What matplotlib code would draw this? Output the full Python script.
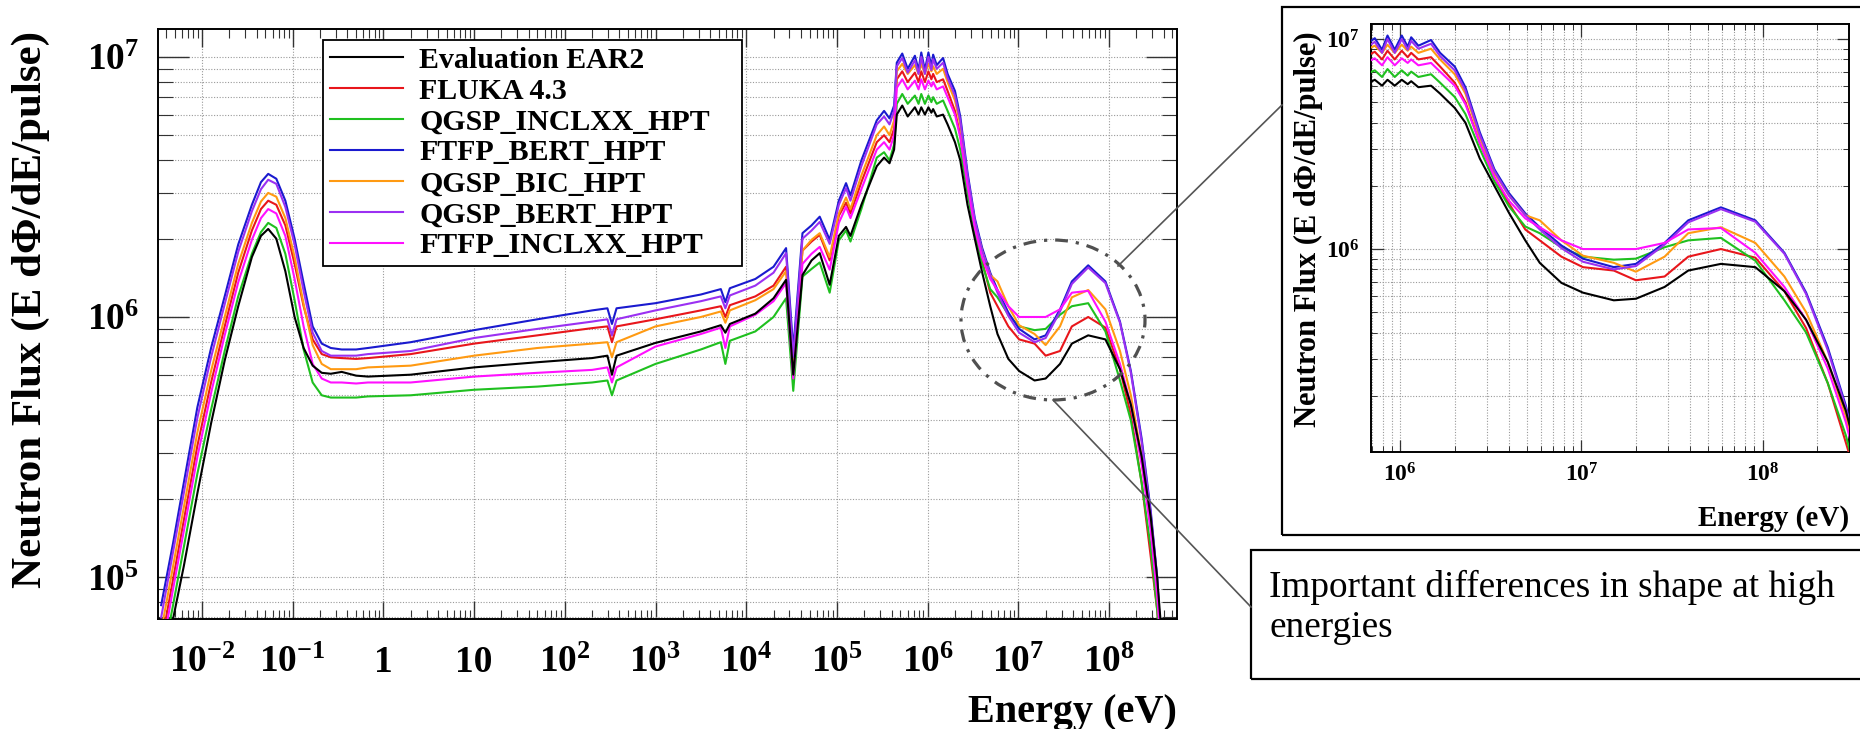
import numpy as np
import matplotlib
matplotlib.use('Agg')
import matplotlib.pyplot as plt
from matplotlib.patches import Ellipse, Rectangle
from matplotlib.lines import Line2D
from matplotlib.ticker import LogLocator, NullFormatter
from matplotlib.font_manager import FontProperties

plt.rcParams['font.family'] = ['Liberation Serif', 'DejaVu Serif']
plt.rcParams['mathtext.fontset'] = 'custom'
plt.rcParams['mathtext.rm'] = 'Liberation Serif:bold'
plt.rcParams['mathtext.bf'] = 'Liberation Serif:bold'
plt.rcParams['mathtext.it'] = 'Liberation Serif:bold:italic'
plt.rcParams['mathtext.default'] = 'bf'

# ---------------------------------------------------------------------------
# Data (energy in eV, flux in units of 1e5 per pulse)
# ---------------------------------------------------------------------------
ENERGY = [0.00355, 0.0048, 0.0063, 0.0089, 0.0126, 0.0178, 0.0251, 0.0355, 0.0447, 0.0537,
          0.066, 0.083, 0.105, 0.132, 0.166, 0.209, 0.263, 0.347, 0.50, 0.676,
          2.0, 10, 50, 200, 295, 331, 372, 1000, 3160, 5250,
          5890, 6600, 12600, 20000, 27500, 33000, 41700, 52500, 64600, 83200,
          1.05e5, 1.26e5, 1.41e5, 1.86e5, 2.75e5, 3.31e5, 3.80e5, 4.27e5, 4.57e5, 5.25e5,
          6.03e5, 7.24e5, 7.94e5, 8.51e5, 9.33e5, 1.02e6, 1.10e6, 1.15e6, 1.26e6, 1.48e6,
          1.66e6, 2.0e6, 2.29e6, 2.75e6, 3.31e6, 3.98e6, 4.9e6, 5.89e6, 7.76e6, 1.02e7,
          1.51e7, 2.0e7, 2.88e7, 3.89e7, 5.89e7, 9.12e7, 1.32e8, 1.74e8, 2.29e8, 2.88e8,
          3.39e8, 3.8e8]

FLUX_EAR2 = [0.42, 0.69, 1.1, 2.1, 3.9, 6.8, 11, 17, 20.5, 21.8,
             20, 15, 10, 7.6, 6.5, 6.1, 6.05, 6.15, 5.95, 5.9,
             6.0, 6.4, 6.7, 6.95, 7.1, 6.0, 7.1, 7.95, 8.8, 9.3,
             8.7, 9.4, 10.3, 11.8, 13.9, 6.0, 14.5, 16.5, 17.6, 13.3,
             20.5, 22.2, 20.5, 27, 38, 41, 39, 44, 60, 65,
             59, 64, 60, 64, 60, 64, 61, 63, 59, 60,
             55, 47, 40, 27, 20, 14.9, 11, 8.6, 6.9, 6.2,
             5.7, 5.8, 6.6, 7.9, 8.5, 8.2, 6.3, 4.6, 2.9, 1.7,
             1.0, 0.6]

FLUX_FLUKA = [0.55, 0.98, 1.65, 3.2, 5.6, 9.2, 14.8, 21.5, 26, 28,
              27, 22.5, 16, 11, 8.2, 7.2, 7.0, 6.95, 6.9, 6.95,
              7.2, 7.9, 8.5, 9.06, 9.2, 8.0, 9.2, 9.8, 10.6, 11.0,
              10.0, 11.1, 12.0, 13.2, 15.6, 6.5, 18, 19.5, 20.7, 16.5,
              24.5, 27.5, 25, 33, 47, 50, 47, 53, 82, 88,
              80, 87, 80, 88, 80, 88, 82, 86, 80, 82,
              74, 62, 50, 32, 22, 16.5, 12.4, 11, 9.2, 8.2,
              7.9, 7.1, 7.4, 9.2, 10.0, 9.1, 6.3, 4.2, 2.3, 1.2,
              0.75, 0.45]

FLUX_QGSP_INCLXX = [0.45, 0.78, 1.3, 2.5, 4.4, 7.4, 12, 17.5, 21.2, 23,
                    22, 17.5, 11.6, 7.5, 5.6, 5.0, 4.9, 4.9, 4.9, 4.95,
                    5.0, 5.25, 5.4, 5.6, 5.7, 5.0, 5.7, 6.6, 7.5, 8.0,
                    6.6, 8.1, 8.8, 10.0, 11.8, 5.2, 14.3, 15.3, 16.2, 12.4,
                    19.7, 21.5, 19.5, 26, 41, 43, 40, 46, 66, 72,
                    66, 71, 66, 72, 66, 71, 67, 70, 66, 68,
                    62, 53, 44, 30, 21, 16, 12.8, 11.9, 10.2, 9.2,
                    8.9, 9.0, 10.2, 11.0, 11.3, 8.8, 5.7, 4.0, 2.3, 1.3,
                    0.75, 0.45]

FLUX_FTFP_BERT = [0.78, 1.35, 2.3, 4.5, 7.6, 12, 19, 27, 33, 35.5,
                  34, 28, 20, 13.5, 9.2, 7.9, 7.6, 7.5, 7.5, 7.6,
                  8.0, 8.9, 9.8, 10.6, 10.8, 9.4, 10.8, 11.3, 12.2, 12.8,
                  11.4, 12.9, 14.0, 15.6, 18.4, 7.5, 21, 22.5, 24.3, 19.8,
                  28, 32.7, 29.3, 40, 57, 62, 58, 65, 95, 103,
                  90, 101, 89, 104, 89, 104, 92, 102, 93, 99,
                  86, 74, 59, 36, 24, 18.5, 14.8, 12.7, 10.4, 9.0,
                  8.2, 8.5, 10.7, 13.7, 15.8, 13.7, 9.6, 6.2, 3.4, 1.8,
                  1.0, 0.5]

FLUX_QGSP_BIC = [0.62, 1.1, 1.85, 3.6, 6.2, 10, 16, 23, 27.8, 30,
                 29, 24, 17, 11.2, 7.8, 6.6, 6.3, 6.3, 6.3, 6.4,
                 6.5, 7.1, 7.6, 7.9, 8.0, 7.0, 8.0, 9.2, 10.0, 10.5,
                 9.5, 10.6, 11.6, 12.8, 15.0, 6.5, 18, 19.8, 21, 17,
                 25, 28.8, 26, 35, 50, 54, 50, 57, 88, 94,
                 86, 93, 86, 94, 86, 94, 88, 92, 86, 90,
                 80, 68, 55, 34, 23, 18, 14.5, 13.7, 11.0, 9.3,
                 8.6, 7.8, 9.2, 11.9, 12.7, 10.7, 7.4, 5.0, 2.9, 1.6,
                 0.9, 0.5]

FLUX_QGSP_BERT = [0.7, 1.25, 2.1, 4.1, 7.0, 11.2, 17.8, 25.5, 31, 33.7,
                  32.5, 26.5, 19, 12.6, 8.7, 7.4, 7.1, 7.1, 7.1, 7.2,
                  7.4, 8.3, 9.0, 9.6, 9.8, 8.5, 9.8, 10.6, 11.5, 12.0,
                  10.8, 12.1, 13.2, 14.8, 17.6, 7.0, 20, 21.5, 23.2, 19.1,
                  27, 31.3, 28, 38, 55, 59, 55, 62, 92, 99,
                  87, 97, 86, 100, 86, 100, 89, 98, 90, 95,
                  83, 71, 57, 35, 23.5, 18, 14.5, 12.4, 10.1, 8.7,
                  8.0, 8.3, 10.5, 13.4, 15.5, 13.5, 9.5, 6.1, 3.3, 1.75,
                  1.0, 0.5]

FLUX_FTFP_INCLXX = [0.5, 0.9, 1.5, 2.9, 5.1, 8.5, 13.6, 19.8, 24, 26,
                    25, 20.5, 14, 9.2, 6.6, 5.8, 5.6, 5.6, 5.55, 5.6,
                    5.6, 5.9, 6.1, 6.26, 6.4, 5.6, 6.4, 7.7, 8.6, 9.1,
                    7.6, 9.2, 10.2, 11.5, 13.5, 5.8, 16, 17.5, 18.6, 15.2,
                    23, 26.5, 24, 31, 44, 47, 44, 50, 76, 82,
                    75, 81, 75, 82, 75, 81, 77, 80, 75, 77,
                    70, 60, 49, 32, 22, 17, 14, 12.7, 11.0, 10.0,
                    10.0, 10.0, 10.7, 12.4, 12.6, 9.6, 6.6, 4.6, 2.7, 1.5,
                    0.85, 0.5]

LABELS = ['Evaluation EAR2', 'FLUKA 4.3', 'QGSP_INCLXX_HPT', 'FTFP_BERT_HPT',
          'QGSP_BIC_HPT', 'QGSP_BERT_HPT', 'FTFP_INCLXX_HPT']
COLORS = ['#000000', '#e8161b', '#1fc01f', '#1a1acf', '#ff9a12', '#9b30f2', '#ff10ff']
SERIES = [FLUX_EAR2, FLUX_FLUKA, FLUX_QGSP_INCLXX, FLUX_FTFP_BERT,
          FLUX_QGSP_BIC, FLUX_QGSP_BERT, FLUX_FTFP_INCLXX]
FLUX_UNIT = 1e5

MAIN_XTICKS = [1e-2, 1e-1, 1, 10, 1e2, 1e3, 1e4, 1e5, 1e6, 1e7, 1e8]
MAIN_XTICKLABELS = [r'$10^{-2}$', r'$10^{-1}$', '1', '10', r'$10^{2}$', r'$10^{3}$',
                    r'$10^{4}$', r'$10^{5}$', r'$10^{6}$', r'$10^{7}$', r'$10^{8}$']
MAIN_YTICKS = [1e5, 1e6, 1e7]
MAIN_YTICKLABELS = [r'$10^{5}$', r'$10^{6}$', r'$10^{7}$']
INSET_XTICKS = [1e6, 1e7, 1e8]
INSET_XTICKLABELS = [r'$10^{6}$', r'$10^{7}$', r'$10^{8}$']
INSET_YTICKS = [1e6, 1e7]
INSET_YTICKLABELS = [r'$10^{6}$', r'$10^{7}$']

YLABEL = 'Neutron Flux (E d\u03a6/dE/pulse)'
XLABEL = 'Energy (eV)'
NOTE = 'Important differences in shape at high\nenergies'

# ---------------------------------------------------------------------------
# Plot
# ---------------------------------------------------------------------------
W, H = 1860, 729
fig = plt.figure(figsize=(W / 100, H / 100), dpi=100, facecolor='white')

def fx(px): return px / W
def fy(py): return 1 - py / H

ax = fig.add_axes([fx(158.3), fy(619), fx(1176.7) - fx(158.3), fy(29) - fy(619)])
ins = fig.add_axes([fx(1371), fy(452), fx(1849) - fx(1371), fy(24) - fy(452)])

energy = np.array(ENERGY)
for a in (ax, ins):
    for lab, col, flux in zip(LABELS, COLORS, SERIES):
        a.plot(energy, np.array(flux) * FLUX_UNIT, color=col, lw=1.5, label=lab,
               zorder=4 if col == '#000000' else 3)
    a.set_xscale('log'); a.set_yscale('log')
    for sp in a.spines.values():
        sp.set_linewidth(1.4)
    a.xaxis.set_minor_locator(LogLocator(base=10, subs=np.arange(2, 10), numticks=60))
    a.yaxis.set_minor_locator(LogLocator(base=10, subs=np.arange(2, 10), numticks=60))
    a.xaxis.set_minor_formatter(NullFormatter())
    a.yaxis.set_minor_formatter(NullFormatter())
    a.tick_params(which='both', direction='in', top=True, right=True, color='#333333')

grid_kw = dict(ls=(0, (1, 1.5)), color='#9a9a9a', lw=0.8)

# main panel
ax.set_xlim(3.3e-3, 5.57e8)
ax.set_ylim(6.9e4, 1.28e7)
ax.set_xticks(MAIN_XTICKS, MAIN_XTICKLABELS)
ax.set_yticks(MAIN_YTICKS, MAIN_YTICKLABELS)
ax.grid(True, which='major', axis='x', **grid_kw)
ax.grid(True, which='both', axis='y', **grid_kw)
ax.tick_params(axis='x', which='major', length=13, width=1.0, labelsize=27, pad=19)
ax.tick_params(axis='x', which='minor', length=6.5, width=0.8)
ax.tick_params(axis='y', which='major', length=22, width=1.0, labelsize=27, pad=14)
ax.tick_params(axis='y', which='minor', length=11, width=0.8)
for t in ax.get_xticklabels() + ax.get_yticklabels():
    t.set_fontweight('bold')

leg_font = FontProperties(family='Liberation Serif', weight='bold', size=21.5)
leg = ax.legend(loc='upper left', bbox_to_anchor=(0.1617, 0.981, 0.4115, 0), mode='expand',
                prop=leg_font, frameon=True, fancybox=False, framealpha=1,
                edgecolor='black', borderpad=0.22, labelspacing=0.13,
                handlelength=2.45, handletextpad=0.55, borderaxespad=0)
leg.get_frame().set_linewidth(1.3)
leg.set_zorder(10)

# inset panel
ins.set_xlim(6.9e5, 3.0e8)
ins.set_ylim(1.08e5, 1.18e7)
ins.set_xticks(INSET_XTICKS, INSET_XTICKLABELS)
ins.set_yticks(INSET_YTICKS, INSET_YTICKLABELS)
ins.grid(True, which='both', axis='both', **grid_kw)
ins.tick_params(which='major', length=9, width=0.9, labelsize=17, pad=8)
ins.tick_params(which='minor', length=4.5, width=0.7)
for t in ins.get_xticklabels() + ins.get_yticklabels():
    t.set_fontweight('bold')

# axis titles
fig.text(fx(31), fy(310), YLABEL, rotation=90, ha='center', va='center',
         fontsize=31, fontweight='bold')
fig.text(fx(1177), fy(722), XLABEL, ha='right', va='baseline', fontsize=29, fontweight='bold')
fig.text(fx(1308), fy(229), YLABEL, rotation=90, ha='center', va='center',
         fontsize=22, fontweight='bold')
fig.text(fx(1849), fy(526), XLABEL, ha='right', va='baseline', fontsize=21, fontweight='bold')

# zoom highlight and call-outs
ax.add_patch(Ellipse(((1053 - 158.3) / 1018.4, (619 - 320) / 590), 184 / 1018.4, 160 / 590,
                     transform=ax.transAxes, fill=False, ec='#505050', lw=2.3,
                     ls=(0, (4, 2.5, 1, 2.5)), clip_on=False, zorder=6))
fig.add_artist(Rectangle((fx(1282), fy(535)), fx(1870) - fx(1282), fy(7) - fy(535),
                         transform=fig.transFigure, fill=False, ec='black', lw=1.6))
fig.add_artist(Rectangle((fx(1251), fy(679)), fx(1870) - fx(1251), fy(550) - fy(679),
                         transform=fig.transFigure, fill=False, ec='black', lw=1.6))
fig.add_artist(Line2D([fx(1118), fx(1282)], [fy(266), fy(105)], transform=fig.transFigure,
                      color='#555555', lw=1.2))
fig.add_artist(Line2D([fx(1053), fx(1251)], [fy(400), fy(607)], transform=fig.transFigure,
                      color='#555555', lw=1.2))
fig.text(fx(1269), fy(570), NOTE, ha='left', va='top', fontsize=26.8,
         family='Liberation Serif', linespacing=1.22)

fig.savefig('out.png', dpi=100, facecolor='white')
